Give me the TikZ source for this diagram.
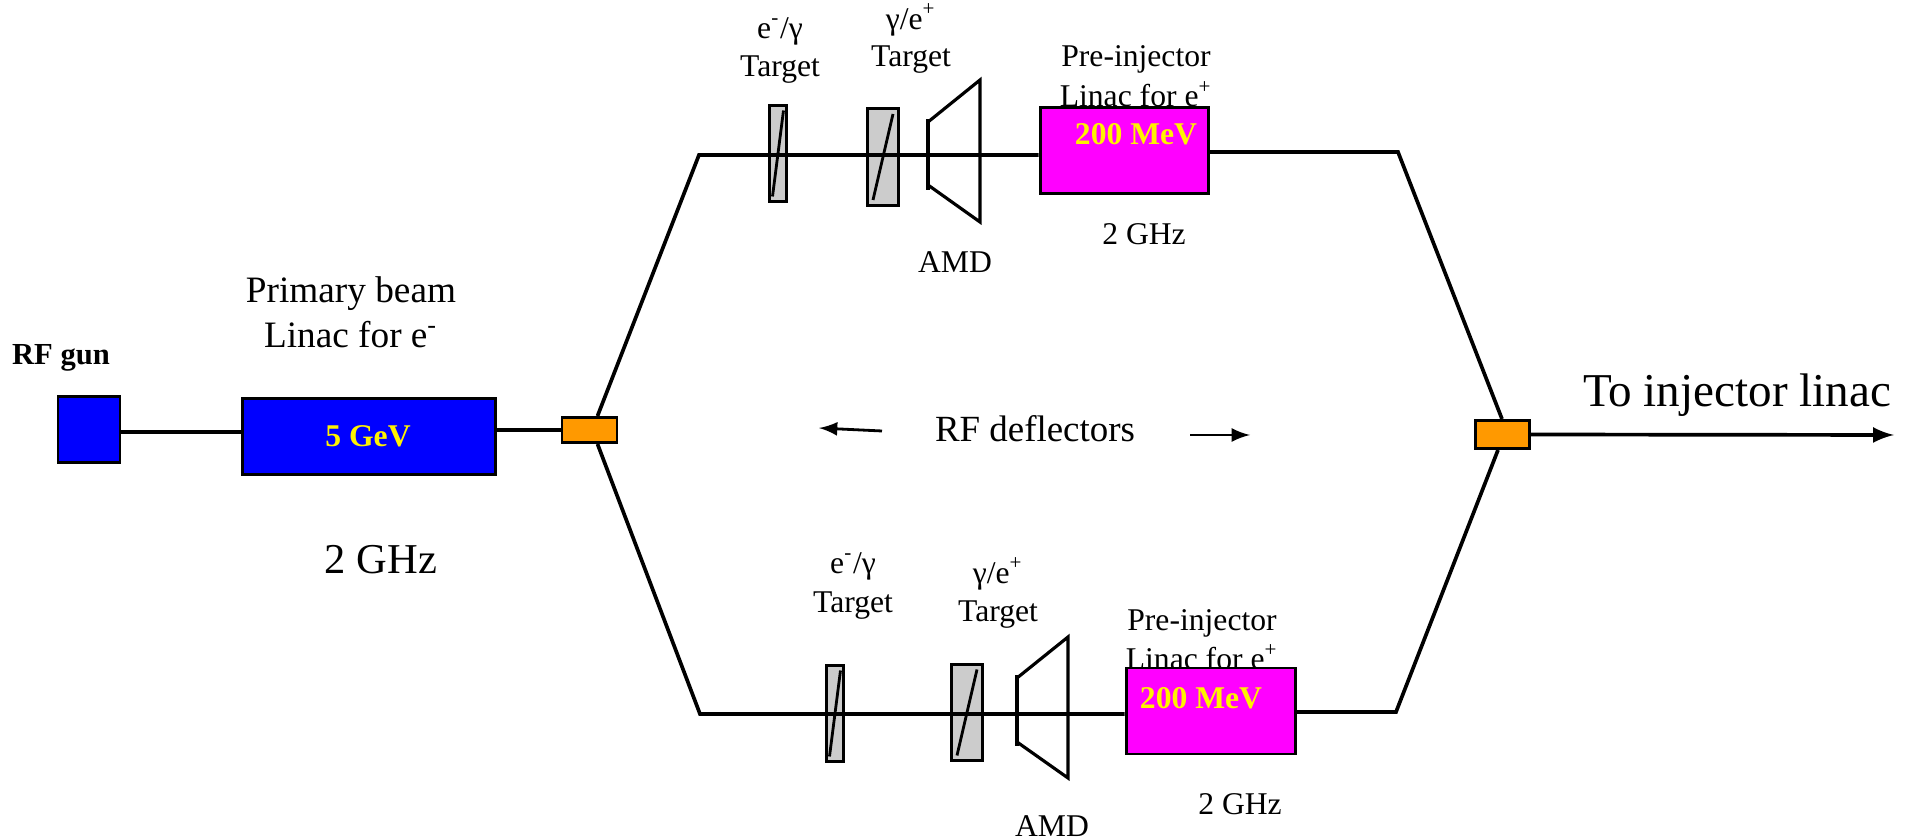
\documentclass[tikz,border=0pt]{standalone}
\usepackage{fontspec}
\setmainfont{Liberation Serif}
\definecolor{gunblue}{RGB}{0,0,255}
\definecolor{previolet}{RGB}{255,0,255}
\definecolor{deflorange}{RGB}{255,153,0}
\definecolor{targetgray}{RGB}{204,204,204}
\tikzset{
  boxstyle/.style = {draw, line width = 0.85pt, inner sep = 0pt},
  beam/.style = {line width = 1.05pt},
  energy/.style = {text = yellow, font = \fontsize{9}{11}\selectfont\bfseries},
  small/.style = {font = \fontsize{9}{11}\selectfont},
  big/.style = {font = \fontsize{10.6}{13}\selectfont}
}

\begin{document}
\begin{tikzpicture} [scale = 1]
\useasboundingbox (0.0, 0.0) rectangle (19.1, 8.4);

% left side
\node[boxstyle, fill = gunblue, minimum width = 0.62cm, minimum height = 0.66cm] (rfgun) at (0.89, 4.10){};
\node[boxstyle, fill = gunblue, minimum width = 2.53cm, minimum height = 0.76cm] (linac) at (3.69, 4.03){};
\node[boxstyle, fill = deflorange, minimum width = 0.55cm, minimum height = 0.25cm] (splitL) at (5.895, 4.10){};
\node[boxstyle, fill = deflorange, minimum width = 0.54cm, minimum height = 0.28cm] (splitR) at (15.02, 4.055){};
\node[energy] (linacE) at (3.68, 4.04){5 GeV};
\node[small, font = \fontsize{8.7}{11}\selectfont\bfseries] (gunT) at (0.61, 4.82){RF gun};
\node[big] (primT) at (3.51, 5.46){Primary beam};
\node[big] (primL) at (3.51, 5.05){Linac for e\textsuperscript{-}};
\node[font = \fontsize{12.1}{14}\selectfont] (primF) at (3.81, 2.80){2 GHz};
\node[font = \fontsize{10.5}{13}\selectfont] (defl) at (10.35, 4.11){RF deflectors};
\node[font = \fontsize{13.4}{16}\selectfont] (toinj) at (17.37, 4.45){To injector linac};

% bends
\coordinate (bendTL) at (6.99, 6.85);
\coordinate (bendTR) at (13.98, 6.88);
\coordinate (bendBL) at (7.00, 1.26);
\coordinate (bendBR) at (13.96, 1.28);
\coordinate (outEnd) at (18.94, 4.05);
\coordinate (deflAa) at (8.82, 4.09);
\coordinate (deflAb) at (8.19, 4.12);
\coordinate (deflBa) at (11.90, 4.05);
\coordinate (deflBb) at (12.50, 4.05);

% upper branch
\node[small] (t1a) at (7.80, 8.09){e\textsuperscript{-}/γ};
\node[small] (t1b) at (7.80, 7.70){Target};
\node[small] (t2a) at (9.11, 8.20){γ/e\textsuperscript{+}};
\node[small] (t2b) at (9.11, 7.80){Target};
\node[small] (preUa) at (11.36, 7.81){Pre-injector};
\node[small] (preUb) at (11.36, 7.46){Linac for e\textsuperscript{+}};
\node[small] (preUf) at (11.44, 6.06){2 GHz};
\node[small] (amdU) at (9.55, 5.78){AMD};
\node[boxstyle, fill = targetgray, minimum width = 0.17cm, minimum height = 0.96cm] (t1) at (7.78, 6.865){};
\node[boxstyle, fill = targetgray, minimum width = 0.31cm, minimum height = 0.97cm] (t2) at (8.83, 6.83){};
\node[boxstyle, fill = previolet, minimum width = 1.68cm, minimum height = 0.86cm] (preU) at (11.24, 6.89){};
\node[energy] (preUe) at (11.36, 7.06){200 MeV};

% lower branch
\node[small] (t3a) at (8.53, 2.74){e\textsuperscript{-}/γ};
\node[small] (t3b) at (8.53, 2.34){Target};
\node[small] (t4a) at (9.98, 2.66){γ/e\textsuperscript{+}};
\node[small] (t4b) at (9.98, 2.25){Target};
\node[small] (preLa) at (12.02, 2.17){Pre-injector};
\node[small] (preLb) at (12.02, 1.83){Linac for e\textsuperscript{+}};
\node[small] (preLf) at (12.40, 0.36){2 GHz};
\node[small] (amdL) at (10.52, 0.14){AMD};
\node[boxstyle, fill = targetgray, minimum width = 0.17cm, minimum height = 0.96cm] (t3) at (8.35, 1.265){};
\node[boxstyle, fill = targetgray, minimum width = 0.31cm, minimum height = 0.96cm] (t4) at (9.67, 1.275){};
\node[boxstyle, fill = previolet, minimum width = 1.69cm, minimum height = 0.86cm] (preL) at (12.105, 1.29){};
\node[energy] (preLe) at (12.01, 1.42){200 MeV};

% beam lines
\draw[beam] ([yshift = -0.02cm]rfgun.east) -- ([yshift = -0.02cm]linac.west |- rfgun);
\draw[beam] (linac.east |- splitL) -- (splitL);
\draw[beam] ([xshift = 0.08cm]splitL.north) -- (bendTL) -- (preU.west |- bendTL);
\draw[beam] (preU.east |- bendTR) -- (bendTR) -- (splitR.north);
\draw[beam] ([xshift = 0.08cm]splitL.south) -- (bendBL) -- (preL.west |- bendBL);
\draw[beam] (preL.east |- bendBR) -- (bendBR) -- ([xshift = -0.04cm]splitR.south);
\draw[beam, -latex] (splitR.east) -- (outEnd);
\draw[thick, -latex] (deflAa) -- (deflAb);
\draw[thick, -latex] (deflBa) -- (deflBb);

% target slashes
\draw[thick] (t1.center) +(-0.055, -0.43) -- +(0.055, 0.43);
\draw[thick] (t2.center) +(-0.10, -0.43) -- +(0.10, 0.43);
\draw[thick] (t3.center) +(-0.055, -0.43) -- +(0.055, 0.43);
\draw[thick] (t4.center) +(-0.10, -0.43) -- +(0.10, 0.43);

% AMD
\draw[line width = 0.9pt] (9.28, 7.21) -- (9.28, 6.50);
\draw[line width = 0.9pt] (9.28, 7.18) -- (9.80, 7.60) -- (9.80, 6.18) -- (9.28, 6.55);
\draw[line width = 0.9pt] (10.17, 1.65) -- (10.17, 0.94);
\draw[line width = 0.9pt] (10.17, 1.62) -- (10.68, 2.03) -- (10.68, 0.62) -- (10.17, 0.98);
\end{tikzpicture}
\end{document}
